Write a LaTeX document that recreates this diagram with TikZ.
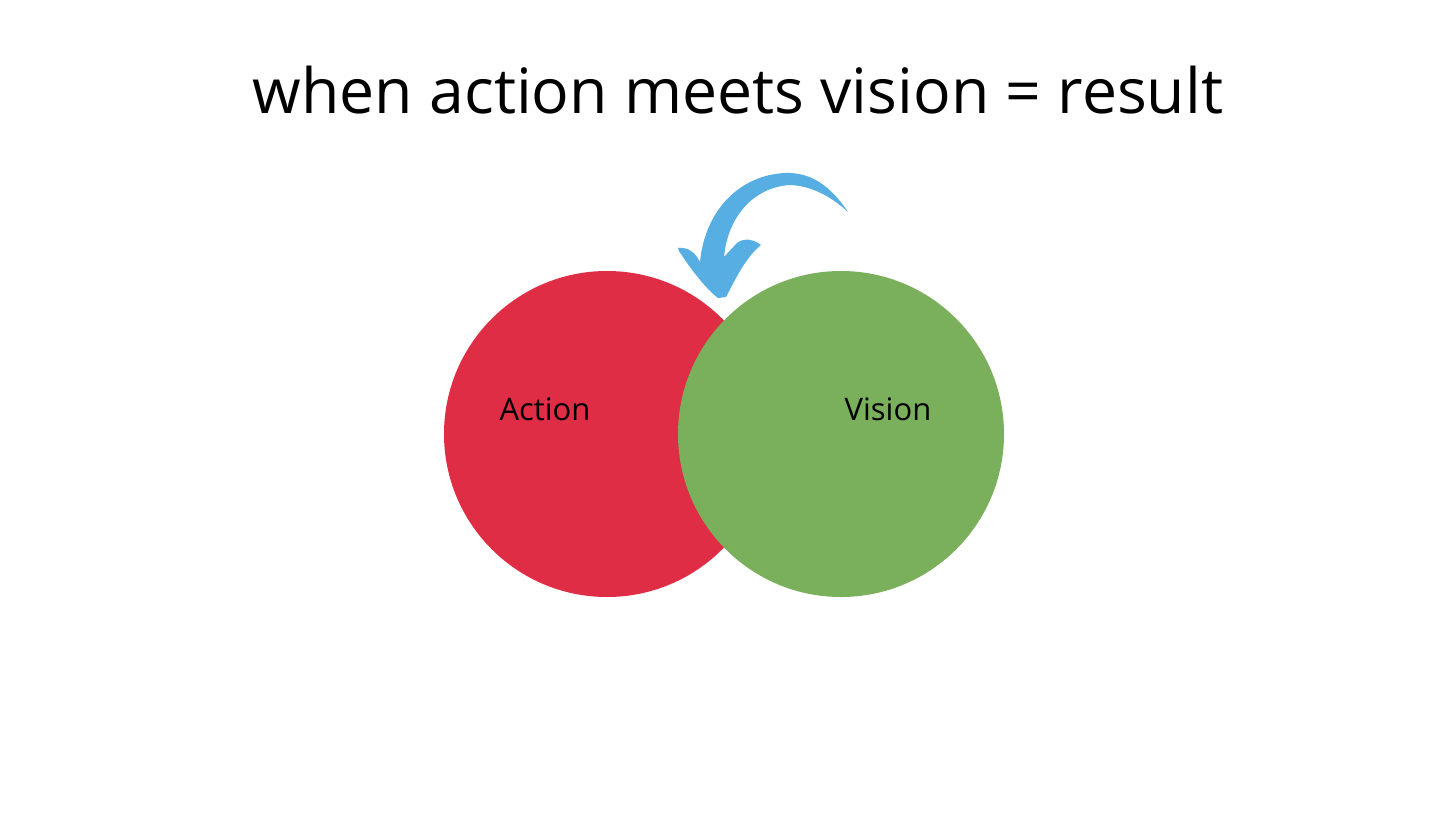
\documentclass[tikz,border=0pt]{standalone}
\usepackage{fontspec}
\setmainfont{Open Sans}
\definecolor{actred}{RGB}{222,45,68}
\definecolor{visgreen}{RGB}{122,176,91}
\definecolor{arrowblue}{RGB}{86,174,226}
\begin{document}
\begin{tikzpicture}[x=1pt,y=-1pt,
  circ/.style={circle,minimum size=326pt,inner sep=0pt},
  lbl/.style={font=\fontsize{31}{34}\selectfont,text=black,inner sep=0pt,anchor=base}]
\useasboundingbox[fill=white] (0,0) rectangle (1456,819);
\node[circ,fill=actred] (action) at (607,434) {};
\node[circ,fill=visgreen] (vision) at (841,434) {};
\node[lbl] (actionlbl) at (545,420) {Action};
\node[lbl] (visionlbl) at (888,420) {Vision};
\node[font=\fontsize{62.5}{66}\selectfont,inner sep=0pt,anchor=base] (title) at (738,113) {when action meets vision = result};
\fill[arrowblue] (848,212) .. controls (830,185) and (810,172) .. (785,173)
  .. controls (740,175) and (705,210) .. (700,262)
  .. controls (695,252) and (688,247) .. (678,248)
  -- (679,251) .. controls (690,268) and (705,288) .. (718,298)
  -- (726,297) .. controls (735,280) and (745,258) .. (761,245)
  .. controls (752,238) and (742,238) .. (736,244)
  -- (724,257) .. controls (728,215) and (755,187) .. (790,185)
  .. controls (815,186) and (835,200) .. (848,212) -- cycle;
\end{tikzpicture}
\end{document}
